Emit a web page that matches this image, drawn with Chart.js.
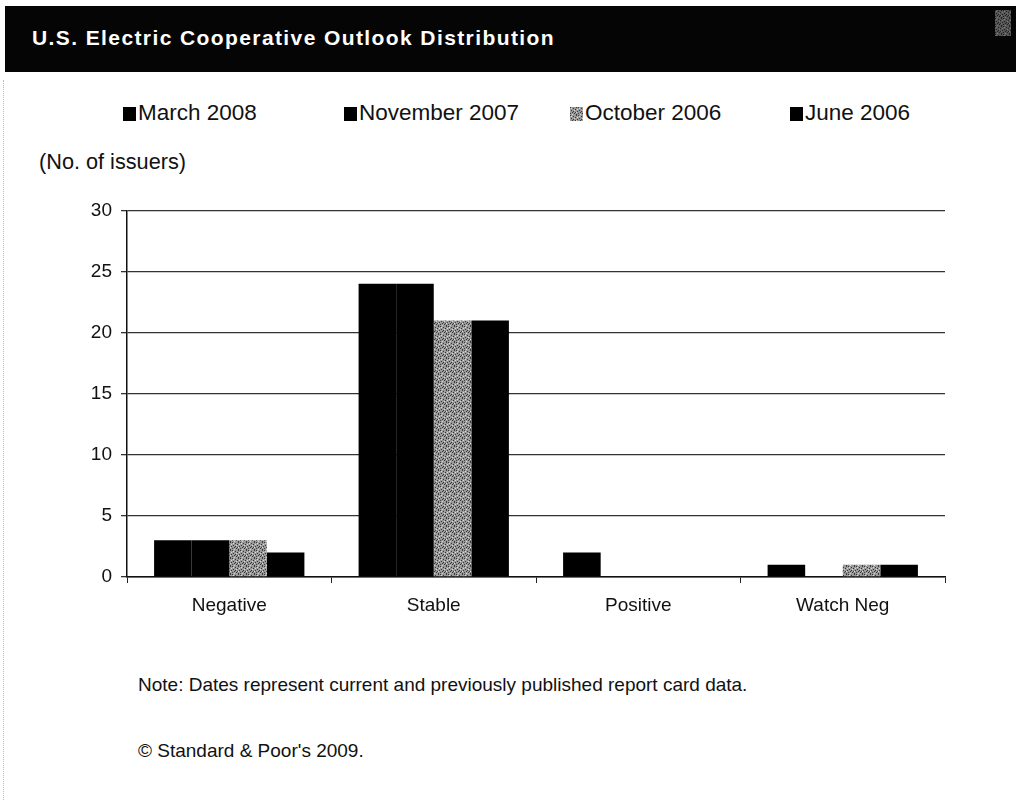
<!DOCTYPE html>
<html>
<head>
<meta charset="utf-8">
<script src="https://cdn.jsdelivr.net/npm/chart.js@4"></script>
<style>
  html, body { margin: 0; padding: 0; background: #fff; }
  body { width: 1016px; height: 802px; position: relative; overflow: hidden;
         font-family: "Liberation Sans", Arial, sans-serif; color: #111; }
  .titlebar { position: absolute; left: 5px; top: 6px; width: 1011px; height: 66px; background: #050505; }
  .titlebar span { position: absolute; left: 27px; top: 20px; color: #fff; font-weight: bold;
                   font-size: 21px; letter-spacing: 1.4px; }
  .titlebar b { position: absolute; left: 990px; top: 4px; width: 16px; height: 26px; opacity: 0.55; }
  .edge { position: absolute; left: 3px; top: 80px; height: 720px; border-left: 1px dotted #bbb; }
  .legend-item { position: absolute; top: 100px; font-size: 22.5px; white-space: nowrap; }
  .legend-item i { display: inline-block; width: 13px; height: 14px; background: #000; margin-right: 2px; vertical-align: -1px; }
  .unit { position: absolute; left: 39px; top: 149px; font-size: 21.7px; }
  .note { position: absolute; left: 138px; font-size: 19px; }
  #wrap { position: absolute; left: 0; top: 190px; width: 1016px; height: 440px; }
</style>
</head>
<body>
<div class="titlebar"><span>U.S. Electric Cooperative Outlook Distribution</span><b id="mark"></b></div>
<div class="edge"></div>
<div id="legend"></div>
<div class="unit">(No. of issuers)</div>
<div id="wrap"><canvas id="chart"></canvas></div>
<div class="note" style="top:674px">Note: Dates represent current and previously published report card data.</div>
<div class="note" style="top:740px">© Standard &amp; Poor's 2009.</div>
<script>
// outlook categories and issuer counts per report date
const categories = ['Negative', 'Stable', 'Positive', 'Watch Neg'];
const seriesNames = ['March 2008', 'November 2007', 'October 2006', 'June 2006'];
const march2008 = [3, 24, 2, 1];
const november2007 = [3, 24, 0, 0];
const october2006 = [3, 21, 0, 1];
const june2006 = [2, 21, 0, 1];
const yTicks = [0, 5, 10, 15, 20, 25, 30];

const legendLeft = [123, 344, 570, 790];

// speckled grey fill used for the October 2006 series
function speckle() {
  const c = document.createElement('canvas');
  c.width = 8; c.height = 8;
  const g = c.getContext('2d');
  g.fillStyle = '#9a9a9a';
  g.fillRect(0, 0, 8, 8);
  const dots = [[0,0],[3,1],[6,0],[1,3],[5,2],[7,4],[2,5],[4,6],[6,7],[0,6],[3,4],[5,5]];
  g.fillStyle = '#3a3a3a';
  dots.forEach(([x, y]) => g.fillRect(x, y, 1, 1));
  g.fillStyle = '#d8d8d8';
  [[1,1],[4,3],[7,2],[2,7],[6,5]].forEach(([x, y]) => g.fillRect(x, y, 1, 1));
  return c;
}

const patternCanvas = speckle();
const grainUrl = 'url(' + patternCanvas.toDataURL() + ')';
document.getElementById('mark').style.background = grainUrl;

const ctx = document.getElementById('chart').getContext('2d');
const grain = ctx.createPattern(patternCanvas, 'repeat');

const colors = ['#000', '#000', grain, '#000'];
const values = [march2008, november2007, october2006, june2006];

// html legend
const legend = document.getElementById('legend');
seriesNames.forEach((name, i) => {
  const el = document.createElement('div');
  el.className = 'legend-item';
  el.style.left = legendLeft[i] + 'px';
  const sw = document.createElement('i');
  if (i === 2) sw.style.background = grainUrl;
  el.appendChild(sw);
  el.appendChild(document.createTextNode(name));
  legend.appendChild(el);
});

new Chart(ctx, {
  type: 'bar',
  data: {
    labels: categories,
    datasets: seriesNames.map((name, i) => ({
      label: name,
      data: values[i],
      backgroundColor: colors[i],
      borderWidth: 0,
      categoryPercentage: 0.735,
      barPercentage: 1.0
    }))
  },
  options: {
    responsive: true,
    maintainAspectRatio: false,
    animation: false,
    layout: { padding: { top: 18, right: 71, bottom: 3, left: 0 } },
    plugins: { legend: { display: false }, tooltip: { enabled: false } },
    scales: {
      x: {
        afterFit: s => { s.height = 50; },
        grid: { display: true, drawOnChartArea: false, offset: true, tickLength: 6, color: '#222' },
        border: { color: '#111', width: 1.5 },
        ticks: { color: '#111', font: { family: 'Liberation Sans', size: 19 }, padding: 11 }
      },
      y: {
        min: 0,
        max: 30,
        afterFit: s => { s.width = 127; },
        afterBuildTicks: s => { s.ticks = yTicks.map(v => ({ value: v })); },
        grid: { color: '#333', lineWidth: 1.3, tickLength: 6 },
        border: { color: '#111', width: 1.5 },
        ticks: { color: '#111', font: { family: 'Liberation Sans', size: 19 }, padding: 9 }
      }
    }
  }
});
</script>
</body>
</html>
